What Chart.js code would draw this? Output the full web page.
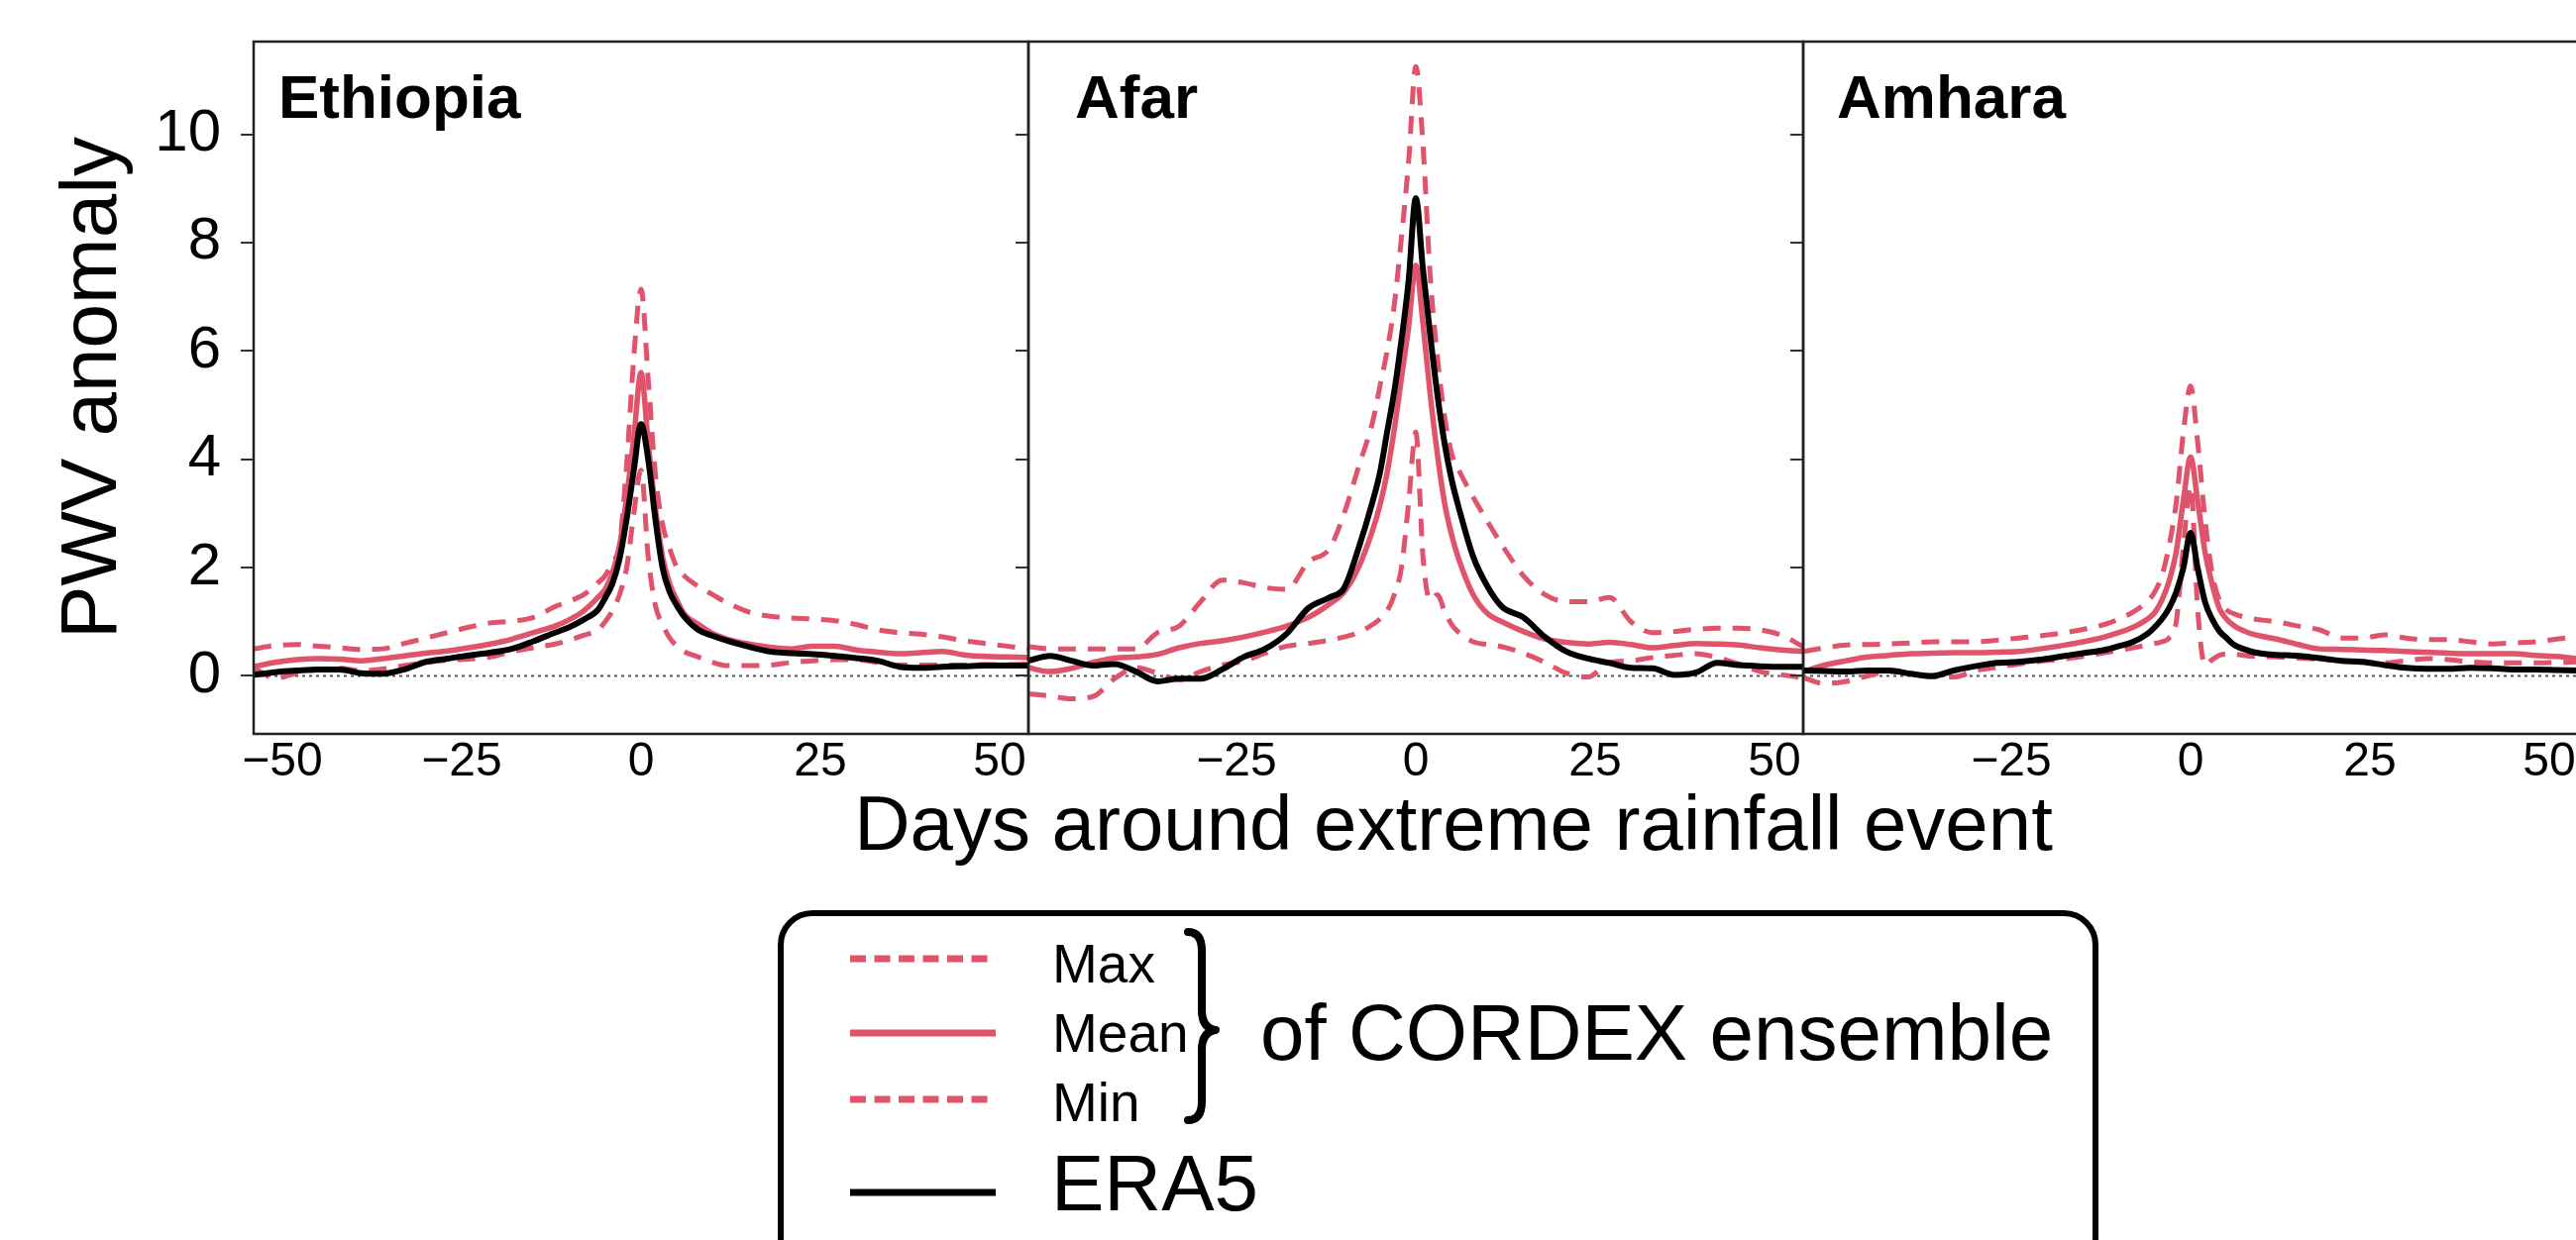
<!DOCTYPE html>
<html>
<head>
<meta charset="utf-8">
<script src="https://cdn.jsdelivr.net/npm/chart.js@4.4.0/dist/chart.umd.min.js"></script>
<style>
  body { margin: 0; background: #fff; }
  #wrap { position: relative; width: 2600px; height: 1252px; overflow: hidden; background: #fff; }
  #wrap canvas { position: absolute; left: 0; top: 0; }
</style>
</head>
<body>
<div id="wrap">
  <canvas id="p0" width="2610" height="1252"></canvas>
  <canvas id="p1" width="2610" height="1252"></canvas>
  <canvas id="p2" width="2610" height="1252"></canvas>
</div>
<script>
// days around the event (shared grid for every series)
var days = [-54,-51,-48,-45,-42,-39,-36,-33,-30,-27,-24,-21,-18,-15,-12,
            -10,-8,-6,
            -5,-4,-3,-2,-1,0,1,2,3,4,5,6,
            8,10,12,
            15,18,21,24,27,30,33,36,39,42,45,48,51,54];

var regions = ['Ethiopia', 'Afar', 'Amhara'];

// Ethiopia
var ethMax  = [0.5,0.56,0.58,0.55,0.52,0.49,0.5,0.6,0.7,0.8,0.9,0.98,1.01,1.08,1.28,
               1.38,1.5,1.72,
               1.85,2.1,2.42,3.9,5.9,7.14,5.48,3.73,2.8,2.35,2.0,1.85,
               1.65,1.5,1.35,
               1.18,1.1,1.07,1.05,1.02,0.95,0.85,0.8,0.77,0.72,0.65,0.6,0.55,0.5];
var ethMean = [0.17,0.25,0.3,0.32,0.31,0.28,0.32,0.37,0.42,0.46,0.52,0.59,0.68,0.8,0.92,
               1.04,1.2,1.45,
               1.6,1.9,2.4,3.3,4.4,5.6,4.3,3.1,2.2,1.7,1.4,1.15,
               0.95,0.78,0.68,
               0.59,0.53,0.5,0.55,0.55,0.48,0.44,0.41,0.43,0.45,0.39,0.36,0.35,0.34];
var ethMin  = [0.15,-0.04,0.05,0.12,0.14,0.1,0.13,0.19,0.25,0.29,0.31,0.35,0.45,0.52,0.59,
               0.66,0.75,0.85,
               1.0,1.2,1.5,2.0,3.0,3.8,2.2,1.3,0.95,0.7,0.55,0.45,
               0.35,0.25,0.19,
               0.19,0.2,0.25,0.28,0.3,0.3,0.25,0.2,0.2,0.2,0.2,0.21,0.21,0.22];
var ethEra5 = [0.02,0.07,0.1,0.12,0.12,0.05,0.04,0.12,0.26,0.32,0.38,0.43,0.5,0.64,0.8,
               0.9,1.04,1.22,
               1.44,1.7,2.16,2.9,3.8,4.65,4.0,2.9,2.0,1.55,1.3,1.1,
               0.85,0.74,0.65,
               0.54,0.45,0.42,0.4,0.37,0.33,0.28,0.17,0.15,0.17,0.18,0.19,0.19,0.19];

// Afar
var afarMax  = [0.54,0.5,0.5,0.5,0.5,0.5,0.8,0.92,1.37,1.77,1.72,1.63,1.6,2.1,2.36,
                3.0,3.85,4.7,
                5.35,6.0,6.85,8.1,9.5,11.25,9.8,7.4,5.9,4.8,4.1,3.8,
                3.3,2.85,2.42,
                1.85,1.5,1.37,1.37,1.45,1.0,0.8,0.82,0.86,0.88,0.88,0.85,0.75,0.54];
var afarMean = [0.15,0.08,0.14,0.25,0.33,0.35,0.4,0.52,0.6,0.65,0.72,0.81,0.92,1.08,1.33,
                1.55,2.0,2.7,
                3.15,3.75,4.55,5.5,6.45,7.58,6.5,5.2,4.1,3.2,2.6,2.15,
                1.5,1.15,1.0,
                0.82,0.68,0.62,0.59,0.62,0.58,0.52,0.56,0.6,0.59,0.57,0.52,0.48,0.45];
var afarMin  = [-0.33,-0.37,-0.42,-0.38,-0.05,0.15,0.05,-0.07,0.08,0.2,0.27,0.42,0.55,0.6,0.66,
                0.72,0.8,0.95,
                1.05,1.2,1.5,2.0,3.2,4.5,2.2,1.4,1.5,1.2,0.95,0.8,
                0.63,0.58,0.54,
                0.42,0.25,0.05,-0.02,0.25,0.28,0.34,0.38,0.41,0.34,0.22,0.08,0.02,-0.03];
var afarEra5 = [0.28,0.37,0.28,0.19,0.22,0.08,-0.1,-0.05,-0.05,0.12,0.35,0.5,0.78,1.25,1.45,
                1.62,2.35,3.23,
                3.75,4.5,5.25,6.2,7.3,8.82,7.5,6.3,5.2,4.3,3.62,3.1,
                2.2,1.65,1.28,
                1.08,0.72,0.45,0.32,0.24,0.15,0.14,0.02,0.06,0.24,0.2,0.18,0.17,0.17];

// Amhara
var amhMax  = [0.45,0.52,0.57,0.58,0.59,0.61,0.63,0.63,0.63,0.66,0.7,0.74,0.79,0.86,0.95,
               1.05,1.18,1.38,
               1.55,1.85,2.4,3.2,4.5,5.35,4.3,2.9,1.9,1.4,1.22,1.15,
               1.07,1.03,1.0,
               0.92,0.85,0.7,0.7,0.76,0.7,0.67,0.67,0.63,0.59,0.61,0.63,0.68,0.72];
var amhMean = [0.08,0.2,0.28,0.35,0.38,0.41,0.42,0.43,0.43,0.44,0.45,0.5,0.56,0.63,0.72,
               0.8,0.9,1.05,
               1.17,1.4,1.75,2.3,3.25,4.04,3.21,2.3,1.7,1.25,1.05,0.93,
               0.8,0.73,0.68,
               0.58,0.5,0.49,0.48,0.47,0.45,0.44,0.42,0.41,0.41,0.41,0.38,0.36,0.32];
var amhMin  = [-0.03,-0.14,-0.1,0.0,0.08,0.05,-0.02,-0.02,0.1,0.16,0.22,0.27,0.31,0.36,0.43,
               0.47,0.52,0.57,
               0.6,0.63,0.7,1.0,2.4,3.5,1.2,0.2,0.3,0.38,0.4,0.4,
               0.37,0.36,0.35,
               0.33,0.31,0.28,0.25,0.24,0.28,0.32,0.3,0.26,0.24,0.24,0.24,0.25,0.26];
var amhEra5 = [0.1,0.09,0.08,0.1,0.1,0.04,0.0,0.1,0.18,0.24,0.26,0.3,0.36,0.42,0.48,
               0.55,0.63,0.78,
               0.9,1.05,1.25,1.55,2.0,2.64,1.98,1.37,1.05,0.83,0.7,0.58,
               0.47,0.41,0.39,
               0.37,0.33,0.28,0.26,0.2,0.15,0.13,0.13,0.15,0.14,0.12,0.12,0.11,0.1];

var xTicks = [[-50, -25, 0, 25, 50], [-25, 0, 25, 50], [-25, 0, 25, 50]];
var xTickLabels = [['\u221250', '\u221225', '0', '25', '50'], ['\u221225', '0', '25', '50'], ['\u221225', '0', '25', '50']];
var yTicks = [0, 2, 4, 6, 8, 10];
var yTickLabels = ['0', '2', '4', '6', '8', '10'];
var legendLabels = ['Max', 'Mean', 'Min', 'ERA5'];
var ensembleLabel = 'of CORDEX ensemble';
var yTitle = 'PWV anomaly';
var xTitle = 'Days around extreme rainfall event';

var series = [
  [ethMax, ethMean, ethMin, ethEra5],
  [afarMax, afarMean, afarMin, afarEra5],
  [amhMax, amhMean, amhMin, amhEra5]
];

var red = '#DF536B';
var FONT = '"Liberation Sans", Arial, Helvetica, sans-serif';
var panelLeft = 256, panelW = 782, plotTop = 42, plotBottom = 741;
var nameOffset = [25, 47, 34];

function pts(vals) {
  return days.map(function (d, i) { return { x: d, y: vals[i] }; });
}

// frame, zero line and region name for each panel
var panelDecor = {
  id: 'panelDecor',
  beforeDatasetsDraw: function (chart) {
    var ctx = chart.ctx, a = chart.chartArea;
    var y0 = chart.scales.y.getPixelForValue(0);
    ctx.save();
    ctx.strokeStyle = '#555';
    ctx.lineWidth = 2;
    ctx.setLineDash([3, 4]);
    ctx.beginPath();
    ctx.moveTo(a.left, y0);
    ctx.lineTo(a.right, y0);
    ctx.stroke();
    ctx.restore();
  },
  afterDatasetsDraw: function (chart, args, opts) {
    var ctx = chart.ctx, a = chart.chartArea;
    ctx.save();
    ctx.strokeStyle = '#222';
    ctx.lineWidth = 2.5;
    ctx.strokeRect(a.left, a.top, a.right - a.left, a.bottom - a.top);
    ctx.fillStyle = '#000';
    ctx.font = 'bold 62px ' + FONT;
    ctx.textAlign = 'left';
    ctx.textBaseline = 'alphabetic';
    ctx.fillText(opts.name, a.left + opts.offset, 119);
    ctx.restore();
  }
};

// axis titles and the grouped legend, drawn once on the first panel
var figureText = {
  id: 'figureText',
  afterDraw: function (chart) {
    var ctx = chart.ctx;
    var ds = chart.data.datasets;
    ctx.save();
    ctx.fillStyle = '#000';
    ctx.textBaseline = 'alphabetic';

    ctx.save();
    ctx.translate(117, (plotTop + plotBottom) / 2);
    ctx.rotate(-Math.PI / 2);
    ctx.textAlign = 'center';
    ctx.font = '80px ' + FONT;
    ctx.fillText(yTitle, 0, 0);
    ctx.restore();

    ctx.textAlign = 'center';
    ctx.font = '78px ' + FONT;
    ctx.fillText(xTitle, 1467, 858);

    // legend box
    ctx.strokeStyle = '#000';
    ctx.lineWidth = 6;
    ctx.beginPath();
    ctx.roundRect(788, 922, 1327, 360, 32);
    ctx.stroke();

    var rows = [968, 1043, 1110, 1204];
    [0, 1, 2, 3].forEach(function (k, i) {
      var d = ds[k];
      ctx.save();
      ctx.strokeStyle = d.borderColor;
      ctx.lineWidth = 7;
      ctx.setLineDash(d.borderDash && d.borderDash.length ? [16, 8.5] : []);
      ctx.beginPath();
      ctx.moveTo(858, rows[i]);
      ctx.lineTo(1005, rows[i]);
      ctx.stroke();
      ctx.restore();
    });

    ctx.textAlign = 'left';
    ctx.font = '55px ' + FONT;
    ctx.fillText(legendLabels[0], 1062, 992);
    ctx.fillText(legendLabels[1], 1062, 1062);
    ctx.fillText(legendLabels[2], 1062, 1132);
    ctx.font = '80px ' + FONT;
    ctx.fillText(legendLabels[3], 1061, 1222);
    ctx.fillText(ensembleLabel, 1272, 1070);

    // curly brace
    ctx.lineWidth = 8;
    ctx.lineCap = 'round';
    ctx.lineJoin = 'round';
    ctx.beginPath();
    ctx.moveTo(1199, 941);
    ctx.quadraticCurveTo(1213, 941, 1213, 960);
    ctx.lineTo(1213, 1020);
    ctx.quadraticCurveTo(1213, 1038, 1227, 1040);
    ctx.quadraticCurveTo(1213, 1042, 1213, 1060);
    ctx.lineTo(1213, 1112);
    ctx.quadraticCurveTo(1213, 1131, 1199, 1131);
    ctx.stroke();
    ctx.restore();
  }
};

function makePanel(p) {
  var left = panelLeft + panelW * p;
  var first = p === 0;
  var s = series[p];
  return new Chart(document.getElementById('p' + p), {
    type: 'line',
    data: {
      datasets: [
        { label: 'Max', data: pts(s[0]), borderColor: red, borderWidth: 5, borderDash: [18, 12], order: 3 },
        { label: 'Mean', data: pts(s[1]), borderColor: red, borderWidth: 5.5, order: 1 },
        { label: 'Min', data: pts(s[2]), borderColor: red, borderWidth: 5, borderDash: [18, 12], order: 2 },
        { label: 'ERA5', data: pts(s[3]), borderColor: '#000', borderWidth: 6, order: 0 }
      ]
    },
    options: {
      responsive: false,
      animation: false,
      devicePixelRatio: 1,
      events: [],
      layout: {
        padding: {
          left: first ? 0 : left - 13,
          right: 2610 - (left + panelW),
          top: plotTop,
          bottom: 1252 - plotBottom - 100
        }
      },
      elements: {
        point: { radius: 0 },
        line: { cubicInterpolationMode: 'monotone', borderCapStyle: 'butt', fill: false }
      },
      plugins: {
        legend: { display: false },
        tooltip: { enabled: false },
        panelDecor: { name: regions[p], offset: nameOffset[p] }
      },
      scales: {
        x: {
          type: 'linear',
          min: -54,
          max: 54,
          afterFit: function (sc) {
            sc.height = 100;
            sc.paddingLeft = 0; sc.paddingRight = 0;
          },
          afterBuildTicks: function (sc) { sc.ticks = xTicks[p].map(function (v) { return { value: v }; }); },
          grid: { display: false, drawTicks: false },
          border: { display: false },
          ticks: {
            autoSkip: false,
            maxRotation: 0,
            padding: 0,
            color: '#000',
            font: { family: FONT, size: 48 },
            callback: function (v) { return xTickLabels[p][xTicks[p].indexOf(v)]; }
          }
        },
        y: {
          min: -1.07,
          max: 11.71,
          afterFit: function (sc) {
            sc.width = first ? 256 : 13;
            sc.paddingTop = 0; sc.paddingBottom = 0;
          },
          afterBuildTicks: function (sc) { sc.ticks = yTicks.map(function (v) { return { value: v }; }); },
          grid: { drawOnChartArea: false, drawTicks: true, tickLength: 13, color: '#333', lineWidth: 2 },
          border: { display: false },
          ticks: {
            display: first,
            padding: 20,
            color: '#000',
            font: { family: FONT, size: 60 },
            callback: function (v) { return yTickLabels[yTicks.indexOf(v)]; }
          }
        }
      }
    },
    plugins: first ? [panelDecor, figureText] : [panelDecor]
  });
}

makePanel(0);
makePanel(1);
makePanel(2);
</script>
</body>
</html>
